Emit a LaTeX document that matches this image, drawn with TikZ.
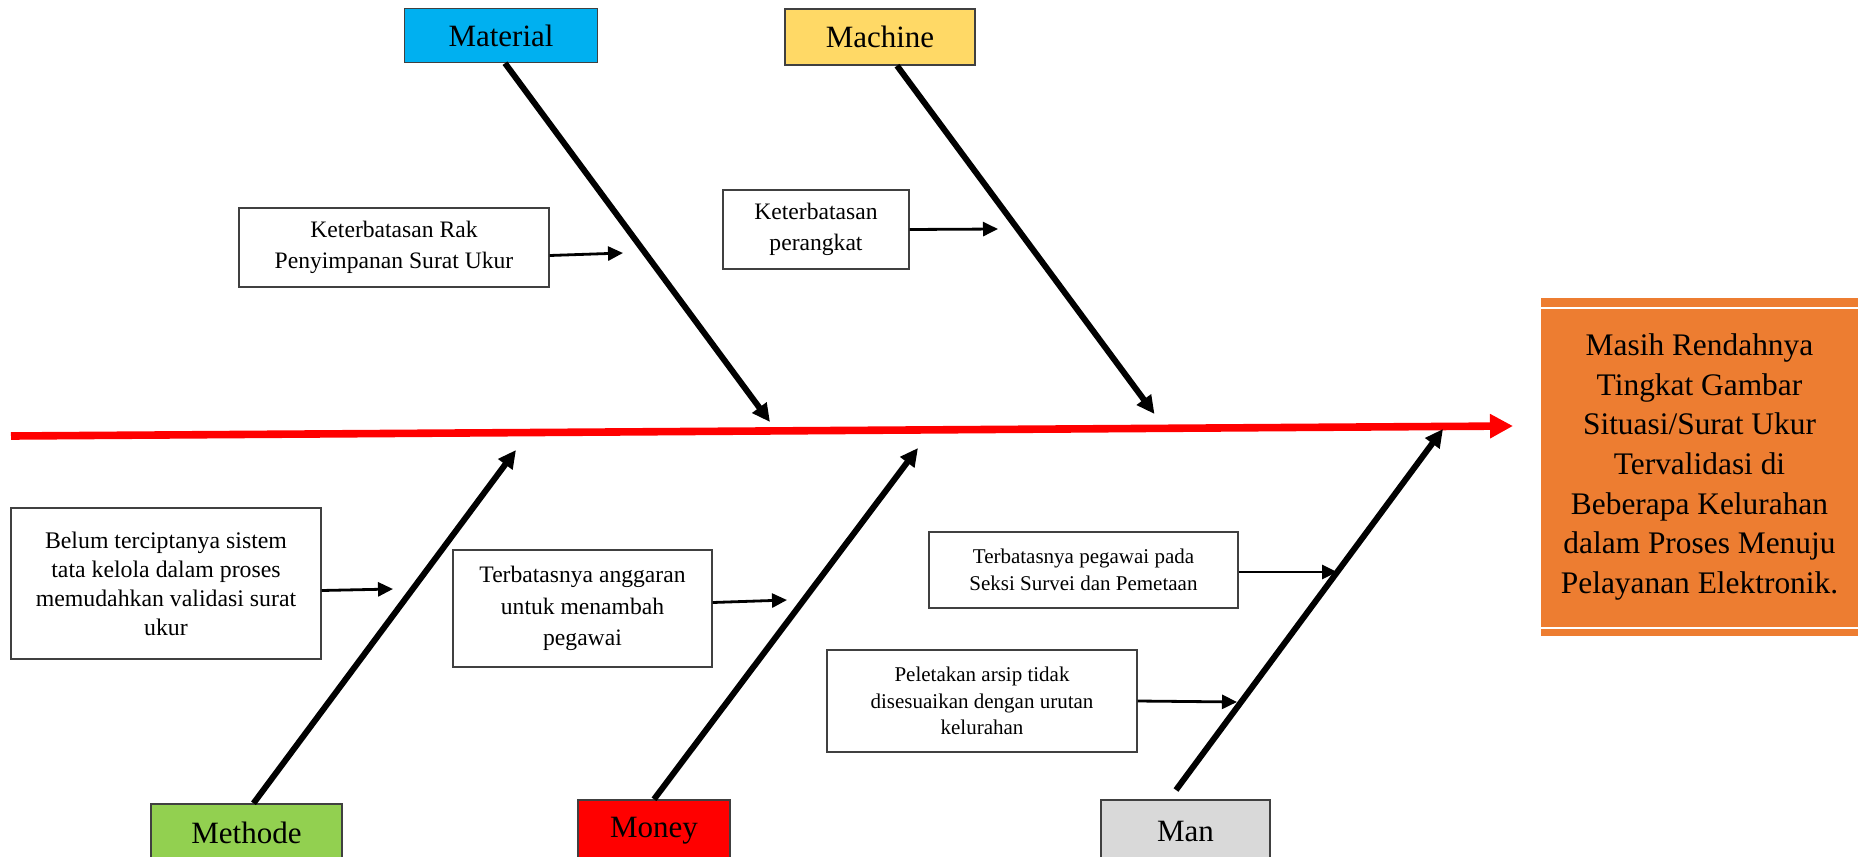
\documentclass[tikz,border=0pt]{standalone}
\usepackage{fontspec}
\setmainfont{Liberation Serif}
\usepackage{xcolor}
\usepackage{tikz}
\usetikzlibrary{arrows.meta, calc}
\definecolor{biru}{HTML}{00B0F0}
\definecolor{kuning}{HTML}{FFD966}
\definecolor{hijau}{HTML}{92D050}
\definecolor{merah}{HTML}{FF0000}
\definecolor{abu}{HTML}{D9D9D9}
\definecolor{oranye}{HTML}{ED7D31}
\definecolor{bingkai}{HTML}{404040}
\tikzset{
  kategori/.style={rectangle, draw=bingkai, line width=0.7pt, text=black,
    font=\fontsize{15.5}{18}\selectfont, minimum height=27pt, inner sep=0pt},
  sebab/.style={rectangle, draw=bingkai, line width=0.6pt, fill=white,
    align=center, font=\fontsize{11.8}{15.8}\selectfont, inner sep=0pt},
  sebabkecil/.style={sebab, font=\fontsize{10.5}{13.3}\selectfont},
  akibat/.style={rectangle, fill=oranye, align=center, inner sep=0pt,
    font=\fontsize{15.7}{19.8}\selectfont, minimum width=158.5pt,
    minimum height=169pt},
  tulang/.style={-{Triangle[length=9pt, width=8.5pt]}, line width=3pt, black},
  panah/.style={-{Triangle[length=7.5pt, width=7pt]}, line width=1.4pt, black},
  punggung/.style={-{Triangle[length=11.5pt, width=11.5pt]}, line width=3.8pt,
    merah}
}
\begin{document}
\begin{tikzpicture}[x=0.5pt, y=-0.5pt]
    \useasboundingbox (0,0) rectangle (1865,857);
    \clip (0,0) rectangle (1865,857);

    \node[kategori, fill=biru, minimum width=96.7pt] (mat) at (501,35.5) {Material};
    \node[kategori, fill=kuning, minimum width=95pt, minimum height=28pt] (mac) at (880,37) {Machine};
    \node[kategori, fill=hijau, minimum width=95.5pt, minimum height=29pt] (met) at (246.5,833) {Methode};
    \node[kategori, fill=merah, minimum width=76pt, minimum height=31pt] (mon) at (654,831) {Money};
    \node[kategori, fill=abu, minimum width=84.5pt, minimum height=31pt] (man) at (1185.5,831) {Man};

    \node[akibat] (eff) at (1699.5,467) {Masih Rendahnya\\ Tingkat Gambar\\ Situasi/Surat Ukur\\ Tervalidasi di\\ Beberapa Kelurahan\\ dalam Proses Menuju\\ Pelayanan Elektronik.};
    \draw[white, line width=1pt] ($(eff.north west)+(0,10)$) -- ($(eff.north east)+(0,10)$);
    \draw[white, line width=1pt] ($(eff.south west)+(0,-8)$) -- ($(eff.south east)+(0,-8)$);

    \node[sebab, minimum width=155pt, minimum height=39.5pt] (rak) at (394,247.5) {Keterbatasan Rak\\ Penyimpanan Surat Ukur};
    \node[sebab, minimum width=93pt, minimum height=39.5pt] (per) at (816,229.5) {Keterbatasan\\ perangkat};
    \node[sebab, font=\fontsize{11.9}{14.5}\selectfont, minimum width=155pt, minimum height=75.5pt] (bel) at (166,583.5) {Belum terciptanya sistem\\ tata kelola dalam proses\\ memudahkan validasi surat\\ ukur};
    \node[sebab, minimum width=129.5pt, minimum height=58.5pt] (ang) at (582.5,608.5) {Terbatasnya anggaran\\ untuk menambah\\ pegawai};
    \node[sebabkecil, minimum width=154.5pt, minimum height=38pt] (peg) at (1083.5,570) {Terbatasnya pegawai pada\\ Seksi Survei dan Pemetaan};
    \node[sebabkecil, minimum width=155pt, minimum height=51pt] (let) at (982,701) {Peletakan arsip tidak\\ disesuaikan dengan urutan\\ kelurahan};

    \coordinate (ekor) at (11,436);
    \coordinate (kepala) at (1513,426);
    \coordinate (pmat) at (770,422);
    \coordinate (pmac) at (1154.5,414);
    \coordinate (pmet) at (516,450);
    \coordinate (pmon) at (918,448);
    \coordinate (pman) at (1443,429);
    \coordinate (aman) at (1176,790);

    \draw[punggung] (ekor) -- (kepala);
    \draw[tulang] ([xshift=2pt]mat.south) -- (pmat);
    \draw[tulang] ([xshift=8.5pt]mac.south) -- (pmac);
    \draw[tulang] ([xshift=3.5pt]met.north) -- (pmet);
    \draw[tulang] (mon.north) -- (pmon);
    \draw[tulang] (aman) -- (pman);

    \draw[panah] ([yshift=-4pt]rak.east) -- (623,253);
    \draw[panah] (per.east) -- (998,229);
    \draw[panah] ([yshift=-3.5pt]bel.east) -- (393,589);
    \draw[panah] ([yshift=3pt]ang.east) -- (787,600);
    \draw[panah] ([yshift=-1pt]peg.east) -- (1337,572);
    \draw[panah] (let.east) -- (1237,702);
\end{tikzpicture}
\end{document}
